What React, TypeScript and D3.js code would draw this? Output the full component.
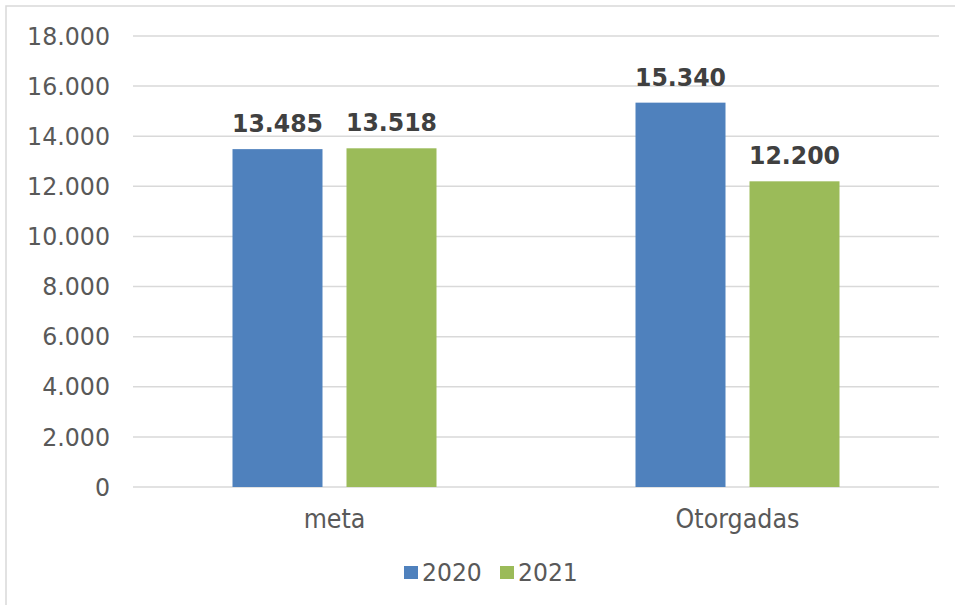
import React from "react";
import * as d3 from "d3";

const categories = ["meta", "Otorgadas"];
const seriesNames = ["2020", "2021"];
const values2020 = [13485, 15340];
const values2021 = [13518, 12200];
const yTicks = [0, 2000, 4000, 6000, 8000, 10000, 12000, 14000, 16000, 18000];
const colors = ["#4F81BD", "#9BBB59"];

const W = 955;
const H = 605;
const FONT = "'DejaVu Sans', Verdana, sans-serif";
const SY = 1.08;

const fmt = (v: number) => {
  const s = String(Math.round(v));
  return s.replace(/\B(?=(\d{3})+(?!\d))/g, ".");
};

function T(props: any) {
  const { x, y, children, ...rest } = props;
  return (
    <text transform={`translate(${x},${y}) scale(1,${SY})`} x={0} y={0} {...rest}>
      {children}
    </text>
  );
}

export default function App() {
  const left = 133, right = 939, top = 36, bottom = 487;
  const y = d3.scaleLinear().domain([0, 18000]).range([bottom, top]);
  const x0 = d3.scaleBand<string>().domain(categories).range([left, right]).padding(0);
  const groupW = 204;
  const x1 = d3
    .scaleBand<string>()
    .domain(seriesNames)
    .range([0, groupW])
    .paddingInner(24 / 114)
    .paddingOuter(0);
  const series = [values2020, values2021];

  return (
    <svg
      width={W}
      height={H}
      style={{ position: "absolute", left: 0, top: 0, background: "#fff" }}
      fontFamily={FONT}
    >
      <rect x={0} y={0} width={W} height={H} fill="#fff" />
      <rect x={6} y={6} width={W + 20} height={H + 20} fill="none" stroke="#D9D9D9" strokeWidth={1.5} />
      {yTicks.map((t) => (
        <g key={t}>
          <line x1={left} x2={right} y1={y(t)} y2={y(t)} stroke="#D9D9D9" strokeWidth={1.5} />
          <T
            x={110}
            y={y(t) + 8.7}
            textAnchor="end"
            fontSize={23.7}
            fill="#595959"
          >
            {fmt(t)}
          </T>
        </g>
      ))}
      {categories.map((c, ci) => {
        const gx = (x0(c) as number) + (x0.bandwidth() - groupW) / 2;
        return (
          <g key={c}>
            {seriesNames.map((s, si) => {
              const v = series[si][ci];
              const bx = gx + (x1(s) as number);
              const bw = x1.bandwidth();
              return (
                <g key={s}>
                  <rect x={bx} y={y(v)} width={bw} height={bottom - y(v)} fill={colors[si]} />
                  <T
                    x={bx + bw / 2}
                    y={y(v) - 17}
                    textAnchor="middle"
                    fontSize={23.6}
                    fontWeight="bold"
                    fill="#404040"
                  >
                    {fmt(v)}
                  </T>
                </g>
              );
            })}
            <T
              x={(x0(c) as number) + x0.bandwidth() / 2}
              y={528}
              textAnchor="middle"
              fontSize={23.8}
              fill="#595959"
            >
              {c}
            </T>
          </g>
        );
      })}
      <g>
        {seriesNames.map((s, si) => {
          const lx = 404 + si * 96;
          return (
            <g key={s}>
              <rect x={lx} y={566} width={14} height={13} fill={colors[si]} />
              <T x={lx + 18} y={581} fontSize={23.5} fill="#595959">
                {s}
              </T>
            </g>
          );
        })}
      </g>
    </svg>
  );
}
